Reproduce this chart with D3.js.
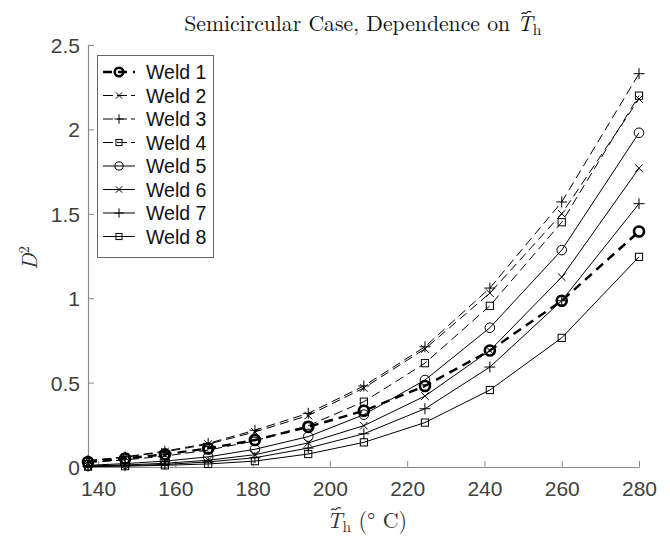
<!DOCTYPE html>
<html>
<head>
<meta charset="utf-8">
<script src="https://cdn.jsdelivr.net/npm/d3@7"></script>
<style>
  html, body { margin: 0; padding: 0; background: #fff; }
  svg { display: block; }
</style>
</head>
<body>
<svg id="chart" width="670" height="538"></svg>
<script>
// ---- data ----
const temps = [137.4, 147.0, 157.3, 168.5, 180.6, 194.4, 208.8, 224.6, 241.4, 260.0, 280.0];
const weld1 = [0.030, 0.050, 0.075, 0.110, 0.160, 0.238, 0.333, 0.480, 0.690, 0.985, 1.395];
const weld2 = [0.036, 0.058, 0.090, 0.135, 0.208, 0.305, 0.468, 0.700, 1.030, 1.500, 2.180];
const weld3 = [0.038, 0.060, 0.094, 0.140, 0.218, 0.318, 0.480, 0.712, 1.060, 1.570, 2.330];
const weld4 = [0.028, 0.042, 0.065, 0.100, 0.155, 0.245, 0.387, 0.615, 0.955, 1.450, 2.200];
const weld5 = [0.010, 0.020, 0.035, 0.060, 0.105, 0.180, 0.310, 0.515, 0.825, 1.285, 1.980];
const weld6 = [0.006, 0.012, 0.022, 0.040, 0.073, 0.143, 0.245, 0.420, 0.690, 1.125, 1.770];
const weld7 = [0.004, 0.008, 0.015, 0.030, 0.055, 0.112, 0.197, 0.345, 0.592, 0.985, 1.560];
const weld8 = [0.002, 0.005, 0.010, 0.018, 0.035, 0.077, 0.146, 0.263, 0.456, 0.765, 1.245];
const seriesNames = ["Weld 1", "Weld 2", "Weld 3", "Weld 4", "Weld 5", "Weld 6", "Weld 7", "Weld 8"];
const seriesValues = [weld1, weld2, weld3, weld4, weld5, weld6, weld7, weld8];
const xTicks = [140, 160, 180, 200, 220, 240, 260, 280];
const yTicks = [0, 0.5, 1, 1.5, 2, 2.5];
const yTickLabels = ["0", "0.5", "1", "1.5", "2", "2.5"];

// ---- styles per series ----
const styles = [
  { marker: "circle", dash: "9,6", width: 2.4, mstroke: 2.6, size: 5 },
  { marker: "x",      dash: "9,5", width: 1,   mstroke: 1,   size: 3.8 },
  { marker: "plus",   dash: "9,5", width: 1,   mstroke: 1,   size: 5.5 },
  { marker: "square", dash: "9,5", width: 1,   mstroke: 1,   size: 3.6 },
  { marker: "circle", dash: null,  width: 1,   mstroke: 1,   size: 4.8 },
  { marker: "x",      dash: null,  width: 1,   mstroke: 1,   size: 3.8 },
  { marker: "plus",   dash: null,  width: 1,   mstroke: 1,   size: 5.5 },
  { marker: "square", dash: null,  width: 1,   mstroke: 1,   size: 3.6 }
];

const svg = d3.select("#chart");
const margin = { left: 88, right: 31, top: 45, bottom: 71 };
const W = 670, H = 538;

const x = d3.scaleLinear().domain([137.4, 280]).range([margin.left, W - margin.right]);
const y = d3.scaleLinear().domain([0, 2.5]).range([H - margin.bottom, margin.top]);

const axisColor = "#8a8a8a";
const labelColor = "#404040";

// axes
const xAxis = d3.axisBottom(x).tickValues(xTicks).tickSizeInner(-6).tickSizeOuter(0).tickPadding(14).tickFormat(d3.format("d"));
const gx = svg.append("g").attr("transform", `translate(0,${y(0)})`).call(xAxis);
const yAxis = d3.axisLeft(y).tickValues(yTicks).tickSizeInner(-6).tickSizeOuter(0).tickPadding(8)
  .tickFormat((d, i) => yTickLabels[i]);
const gy = svg.append("g").attr("transform", `translate(${x(137.4)},0)`).call(yAxis);

[gx, gy].forEach(g => {
  g.select(".domain").attr("stroke", axisColor).attr("stroke-width", 1.2);
  g.selectAll(".tick line").attr("stroke", axisColor).attr("stroke-width", 1);
  g.selectAll(".tick text").attr("fill", labelColor)
    .style("font-family", "'Liberation Sans', Arial, sans-serif").style("font-size", "21px");
});
gx.selectAll(".tick text").attr("dy", "0.71em");
gy.selectAll(".tick text").attr("dy", "0.36em");

// marker drawer
function drawMarker(g, type, cx, cy, s, sw) {
  if (type === "circle") {
    g.append("circle").attr("cx", cx).attr("cy", cy).attr("r", s)
      .attr("fill", "none").attr("stroke", "#000").attr("stroke-width", sw);
  } else if (type === "square") {
    g.append("rect").attr("x", cx - s).attr("y", cy - s).attr("width", 2 * s).attr("height", 2 * s)
      .attr("fill", "none").attr("stroke", "#000").attr("stroke-width", sw);
  } else if (type === "x") {
    g.append("path").attr("d", `M${cx - s},${cy - s}L${cx + s},${cy + s}M${cx - s},${cy + s}L${cx + s},${cy - s}`)
      .attr("stroke", "#000").attr("stroke-width", sw).attr("fill", "none");
  } else if (type === "plus") {
    g.append("path").attr("d", `M${cx - s},${cy}L${cx + s},${cy}M${cx},${cy - s}L${cx},${cy + s}`)
      .attr("stroke", "#000").attr("stroke-width", sw).attr("fill", "none");
  }
}

const line = d3.line().x(d => x(d[0])).y(d => y(d[1]));
const plot = svg.append("g");

// draw series in reverse so Weld 1 is on top
for (let i = seriesValues.length - 1; i >= 0; i--) {
  const st = styles[i];
  const pts = temps.map((t, j) => [t, seriesValues[i][j]]);
  const g = plot.append("g");
  g.append("path").attr("d", line(pts)).attr("fill", "none").attr("stroke", "#000")
    .attr("stroke-width", st.width).attr("stroke-dasharray", st.dash || null);
  pts.forEach(p => drawMarker(g, st.marker, x(p[0]), y(p[1]), st.size, st.mstroke));
}

// legend
const lg = svg.append("g");
lg.append("rect").attr("x", 97.5).attr("y", 55.5).attr("width", 116).attr("height", 202)
  .attr("fill", "#fff").attr("stroke", "#666").attr("stroke-width", 1);
seriesNames.forEach((name, i) => {
  const st = styles[i];
  const cy = 72 + i * 23.5;
  lg.append("line").attr("x1", 103).attr("x2", 135).attr("y1", cy).attr("y2", cy)
    .attr("stroke", "#000").attr("stroke-width", st.width).attr("stroke-dasharray", st.dash ? (i === 0 ? "9,6" : "10,4") : null);
  drawMarker(lg, st.marker, 119, cy, st.size * 0.85, st.mstroke);
  lg.append("text").attr("x", 146).attr("y", cy).attr("dy", "0.36em")
    .style("font-family", "'Liberation Sans', Arial, sans-serif").style("font-size", "19.5px")
    .attr("fill", "#111").text(name);
});

// tilde helper: draws a small wave above a given character of a text element
function addTilde(textSel, charIndex, color, dxShift) {
  const node = textSel.node();
  const ext = node.getExtentOfChar(charIndex);
  const cx = ext.x + ext.width * 0.5 + dxShift;
  const ty = ext.y + ext.height * 0.2;
  const w = ext.width * 0.62;
  const h = 1.8;
  const parent = d3.select(node.parentNode);
  parent.append("path")
    .attr("d", `M${cx - w / 2},${ty + h / 2} C${cx - w / 4},${ty - h * 1.2} ${cx - w / 8},${ty + h} ${cx},${ty} S${cx + w / 4},${ty - h * 1.2} ${cx + w / 2},${ty - h / 2}`)
    .attr("fill", "none").attr("stroke", color).attr("stroke-width", 1.2);
}

// title
const serif = "'Latin Modern Roman', 'CMU Serif', 'Liberation Serif', 'DejaVu Serif', serif";
const titleStr = "Semicircular Case, Dependence on ";
const title = svg.append("text").attr("x", 0).attr("y", 31)
  .style("font-family", serif).style("font-size", "21.7px").attr("fill", "#111");
title.append("tspan").text(titleStr);
title.append("tspan").style("font-style", "italic").text("T");
title.append("tspan").attr("dy", 4).style("font-size", "15.5px").text("h");
{
  const bb = title.node().getBBox();
  title.attr("x", 363 - bb.width / 2);
  addTilde(title, titleStr.length, "#111", 1.5);
}

// x label
const xl = svg.append("text").attr("x", 0).attr("y", 528)
  .style("font-family", serif).style("font-size", "22px").attr("fill", "#333");
xl.append("tspan").style("font-style", "italic").text("T");
xl.append("tspan").attr("dy", 4).style("font-size", "15.5px").text("h");
xl.append("tspan").attr("dy", -4).text(" (\u00B0 C)");
{
  const bb = xl.node().getBBox();
  xl.attr("x", 367 - bb.width / 2);
  addTilde(xl, 0, "#333", 1.5);
}

// y label
const yl = svg.append("text").attr("transform", "translate(37,258) rotate(-90)").attr("text-anchor", "middle")
  .style("font-family", serif).style("font-size", "22px").attr("fill", "#333");
yl.append("tspan").style("font-style", "italic").text("D");
yl.append("tspan").attr("dy", -8).style("font-size", "15px").text("2");
</script>
</body>
</html>
